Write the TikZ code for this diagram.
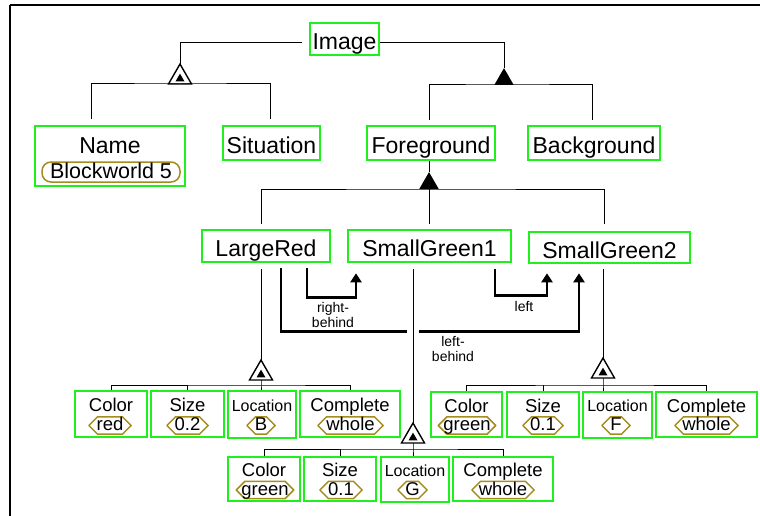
\documentclass[tikz,border=0pt]{standalone}
\usepackage{fontspec}
\setmainfont{Liberation Sans}
\usetikzlibrary{shapes.geometric,shapes.misc,arrows.meta,calc}
\definecolor{boxgreen}{RGB}{30,240,30}
\definecolor{valolive}{RGB}{165,140,30}
\begin{document}
\begin{tikzpicture}[x=1pt,y=-1pt,
  mainbox/.style={draw=boxgreen,line width=2.6pt,inner sep=0pt,minimum height=32pt,font=\fontsize{23}{27}\selectfont,text height=21.5pt,text depth=0pt},
  bigbox/.style={draw=boxgreen,line width=2.6pt,inner sep=0pt},
  maintext/.style={inner sep=0pt,font=\fontsize{23}{27}\selectfont,text height=16.5pt,text depth=0pt},
  namevalue/.style={draw=valolive,line width=1.5pt,rounded corners=9pt,inner sep=0pt,minimum width=138pt,minimum height=20pt,font=\fontsize{21.5}{24}\selectfont,text height=13.4pt,text depth=0pt},
  attrbox/.style={draw=boxgreen,line width=1.8pt,inner sep=0pt,minimum height=46pt},
  attrtitle/.style={inner sep=0pt,font=\fontsize{18.5}{20}\selectfont,text height=13.2pt,text depth=0pt},
  loctitle/.style={inner sep=0pt,font=\fontsize{16}{18}\selectfont,text height=11.5pt,text depth=0pt},
  valbox/.style={chamfered rectangle,chamfered rectangle xsep=5pt,draw=valolive,line width=1.5pt,inner sep=0pt,minimum height=17pt,font=\fontsize{18.5}{20}\selectfont,text height=10.2pt,text depth=0pt},
  treeline/.style={line width=1pt},
  opentri/.style={regular polygon,regular polygon sides=3,draw,line width=1.4pt,fill=white,minimum size=26.6pt,inner sep=0pt,outer sep=0pt},
  innertri/.style={regular polygon,regular polygon sides=3,fill=black,minimum size=10.4pt,inner sep=0pt,outer sep=0pt},
  filltri/.style={regular polygon,regular polygon sides=3,fill=black,minimum size=22.5pt,inner sep=0pt,outer sep=0pt},
  rel/.style={line width=2.6pt,-{Triangle[length=9pt,width=11pt]}},
  rellabel/.style={inner sep=0pt,align=center,font=\fontsize{14}{15}\selectfont}
]
\useasboundingbox (0,0) rectangle (760,516);
% frame
\draw[line width=1.8pt] (10,5) -- (760,5);
\draw[line width=1.2pt] (10,5) -- (10,516);

% main nodes
\node[mainbox,minimum width=69pt] (Image) at (344.5,39) {Image};
\node[bigbox,minimum width=150pt,minimum height=60pt] (Name) at (110,156) {};
\node[maintext] (NameT) at (110,145) {Name};
\node[namevalue] (NameV) at (111,172) {Blockworld 5};
\node[mainbox,minimum width=97pt,minimum height=34pt] (Situation) at (271.5,143) {Situation};
\node[mainbox,minimum width=128pt,minimum height=34pt] (Foreground) at (431,143) {Foreground};
\node[mainbox,minimum width=132pt,minimum height=34pt] (Background) at (594,143) {Background};
\node[mainbox,minimum width=128pt] (LargeRed) at (266,246) {LargeRed};
\node[mainbox,minimum width=163pt] (SmallGreenA) at (429.5,246) {SmallGreen1};
\node[mainbox,minimum width=161pt,minimum height=31pt] (SmallGreenB) at (609.5,247.5) {SmallGreen2};

% triangles
\node[opentri,anchor=south] (t1) at (180,84) {};
\node[innertri] (t1i) at ($(t1.center)+(0,1.5)$) {};
\node[filltri,anchor=south] (t2) at (504,85) {};
\node[filltri,anchor=south] (t3) at (429,189) {};
\node[opentri,anchor=south] (t4) at (261,380) {};
\node[innertri] (t4i) at ($(t4.center)+(0,1.5)$) {};
\node[opentri,anchor=south] (t5) at (413,443) {};
\node[innertri] (t5i) at ($(t5.center)+(0,1.5)$) {};
\node[opentri,anchor=south] (t6) at (603,378) {};
\node[innertri] (t6i) at ($(t6.center)+(0,1.5)$) {};

% LargeRed attributes
\node[attrbox,minimum width=72pt] (LRcol) at (111,414) {};
\node[attrtitle] (LRcolT) at (111,405) {Color};
\node[valbox,minimum width=42pt] (LRcolV) at (110,425.5) {red};
\node[attrbox,minimum width=73pt] (LRsiz) at (187.5,414) {};
\node[attrtitle] (LRsizT) at (187.5,405) {Size};
\node[valbox,minimum width=41pt] (LRsizV) at (187.5,425.5) {0.2};
\node[attrbox,minimum width=68pt,minimum height=47pt] (LRloc) at (262,414.5) {};
\node[loctitle] (LRlocT) at (262,406) {Location};
\node[valbox,minimum width=28pt] (LRlocV) at (261,425.5) {B};
\node[attrbox,minimum width=100pt] (LRcom) at (350,414) {};
\node[attrtitle] (LRcomT) at (350,405) {Complete};
\node[valbox,minimum width=65pt] (LRcomV) at (350.5,425.5) {whole};

% SmallGreen1 attributes
\node[attrbox,minimum width=72pt,minimum height=44pt] (GAcol) at (264,479) {};
\node[attrtitle] (GAcolT) at (264,470) {Color};
\node[valbox,minimum width=54pt] (GAcolV) at (265,490) {green};
\node[attrbox,minimum width=72pt,minimum height=44pt] (GAsiz) at (340,479) {};
\node[attrtitle] (GAsizT) at (340,470) {Size};
\node[valbox,minimum width=42pt] (GAsizV) at (341,490) {0.1};
\node[attrbox,minimum width=68pt,minimum height=45pt] (GAloc) at (415,479.5) {};
\node[loctitle] (GAlocT) at (415,471) {Location};
\node[valbox,minimum width=29pt] (GAlocV) at (412.5,490) {G};
\node[attrbox,minimum width=100pt,minimum height=44pt] (GAcom) at (503,479) {};
\node[attrtitle] (GAcomT) at (503,470) {Complete};
\node[valbox,minimum width=62pt] (GAcomV) at (503,490) {whole};

% SmallGreen2 attributes
\node[attrbox,minimum width=71pt,minimum height=45pt] (GBcol) at (466.5,414.5) {};
\node[attrtitle] (GBcolT) at (466.5,405.5) {Color};
\node[valbox,minimum width=54pt] (GBcolV) at (467,425.5) {green};
\node[attrbox,minimum width=72pt,minimum height=45pt] (GBsiz) at (543,414.5) {};
\node[attrtitle] (GBsizT) at (543,405.5) {Size};
\node[valbox,minimum width=40pt] (GBsizV) at (543,425.5) {0.1};
\node[attrbox,minimum width=69pt,minimum height=46pt] (GBloc) at (617.5,415) {};
\node[loctitle] (GBlocT) at (617.5,406) {Location};
\node[valbox,minimum width=28pt] (GBlocV) at (616,425.5) {F};
\node[attrbox,minimum width=101pt,minimum height=45pt] (GBcom) at (706.5,414.5) {};
\node[attrtitle] (GBcomT) at (706.5,405.5) {Complete};
\node[valbox,minimum width=63pt] (GBcomV) at (706.5,425.5) {whole};

% relation arrows
\coordinate (rbA) at ($(LargeRed.south)+(41,5)$);
\coordinate (rbB) at ($(SmallGreenA.south)+(-73.5,10)$);
\draw[rel] (rbA) -- ++(0,29) -| (rbB);
\coordinate (lbA) at ($(LargeRed.south)+(15,5)$);
\coordinate (lbB) at ($(SmallGreenB.south)+(-30.5,9)$);
\draw[rel] (lbA) -- ++(0,63) -| (lbB);
\fill[white] (407,325) rectangle (419,335);
\coordinate (lA) at ($(SmallGreenA.south)+(65.5,6)$);
\coordinate (lB) at ($(SmallGreenB.south)+(-62.5,9)$);
\draw[rel] (lA) -- ++(0,26) -| (lB);
\node[rellabel] (rbL) at (333,315) {right-\\behind};
\node[rellabel] (lbL) at (453,349) {left-\\behind};
\node[rellabel] (lL) at (524,306) {left};

% tree lines
\draw[treeline] ([xshift=-7pt,yshift=-4pt]Image.west) -| (t1.north);
\draw[treeline] ([yshift=-4pt]Image.east) -| (t2.north);
\coordinate (cName) at ($(Name.north)+(-19,-6)$);
\coordinate (cSit) at ($(Situation.north)+(-1.5,-6)$);
\draw[treeline] (cName) |- (t1.south) -| (cSit);
\coordinate (cFg) at ($(Foreground.north)+(-2,-5)$);
\coordinate (cBg) at ($(Background.north)+(-2,-5)$);
\draw[treeline] (cFg) |- (t2.south) -| (cBg);
\draw[treeline] (t3.north |- Foreground.south) -- (t3.north);
\coordinate (cLR) at ($(LargeRed.north)+(-5,-5)$);
\coordinate (cSGA) at ($(SmallGreenA.north)+(-0.5,-5)$);
\coordinate (cSGB) at ($(SmallGreenB.north)+(-5.5,-7)$);
\draw[treeline] (cLR) |- (t3.south) -| (cSGB);
\draw[treeline] (t3.south) -- (cSGA);

\draw[treeline] ($(LargeRed.south -| t4.north)+(0,6)$) -- (t4.north);
\draw[treeline] ($(SmallGreenA.south -| t5.north)+(0,6)$) -- (t5.north);
\draw[treeline] ($(SmallGreenB.south -| t6.north)+(0,5)$) -- (t6.north);

\coordinate (b4) at ($(t4.south)+(0,5)$);
\draw[treeline] (LRcol.north) |- (b4) -| (LRcom.north);
\draw[treeline] (LRsiz.north) -- (LRsiz.north |- b4);
\draw[treeline] (t4.south) -- (b4) -- (b4 |- LRloc.north);

\coordinate (b5) at ($(t5.south)+(0,6)$);
\draw[treeline] (GAcol.north) |- (b5) -| (GAcom.north);
\draw[treeline] (GAsiz.north) -- (GAsiz.north |- b5);
\draw[treeline] (t5.south) -- (b5) -- (b5 |- GAloc.north);

\coordinate (b6) at ($(t6.south)+(0,7)$);
\draw[treeline] (GBcol.north) |- (b6) -| (GBcom.north);
\draw[treeline] (GBsiz.north) -- (GBsiz.north |- b6);
\draw[treeline] (t6.south) -- (b6) -- (b6 |- GBloc.north);
\end{tikzpicture}
\end{document}
